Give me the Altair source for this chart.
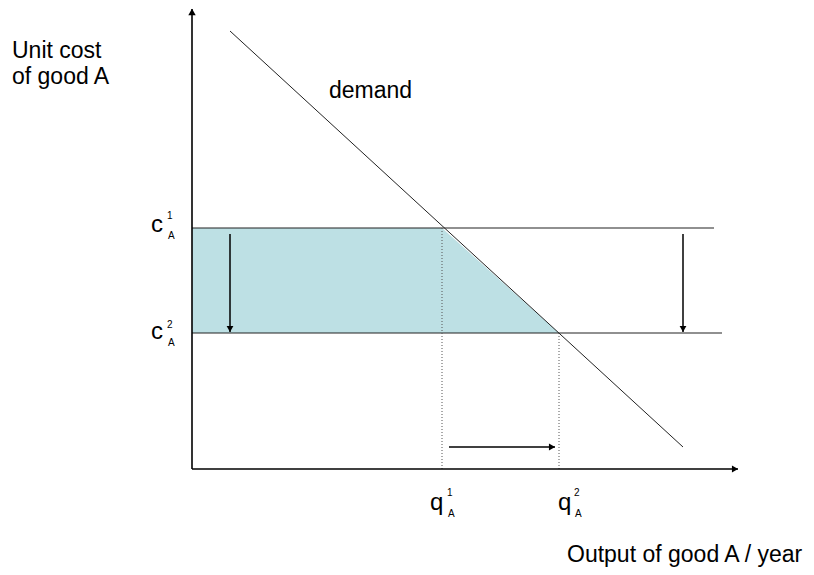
import altair as alt
import pandas as pd

# ---- values (data units: origin at the axes' corner) ----
cost_levels = [4.82, 2.72]          # c_A^1, c_A^2
quantities = [5.0, 7.34]            # q_A^1, q_A^2
cost_line_ends = [10.44, 10.6]
demand_q = [0.76, 9.82]
demand_c = [8.76, 0.44]
axis_x_end = 10.92
axis_y_end = 9.2
down_arrow_q = [0.76, 9.82]
down_arrow_from = 4.7
down_arrow_to = 2.74
right_arrow_from = 5.14
right_arrow_to = 7.26
right_arrow_c = 0.44

big_labels = ["Unit cost", "of good A", "demand", "Output of good A / year"]
big_x = [-3.6, -3.6, 2.74, 7.5]
big_y = [8.22, 7.7, 7.42, -1.86]

main_sym = ["c", "c", "q", "q"]
main_x = [-0.58, -0.58, 4.76, 7.32]
main_y = [4.74, 2.6, -0.82, -0.82]
sup_text = ["1", "2", "1", "2"]
sup_x = [-0.5, -0.5, 5.1, 7.64]
sup_y = [5.0, 2.82, -0.54, -0.54]
sub_text = ["A", "A", "A", "A"]
sub_x = [-0.48, -0.48, 5.12, 7.66]
sub_y = [4.6, 2.46, -0.96, -0.96]

X = alt.Scale(domain=[-3.68, 12.28], nice=False, zero=False)
Y = alt.Scale(domain=[-1.96, 9.22], nice=False, zero=False)
FONT = "Liberation Sans"


def xq(f="x"):
    return alt.X(f, type="quantitative", scale=X, axis=None)


def yc(f="y"):
    return alt.Y(f, type="quantitative", scale=Y, axis=None)


shade = pd.DataFrame({
    "x": [0, quantities[0], quantities[1]],
    "y": [cost_levels[0], cost_levels[0], cost_levels[1]],
    "y2": [cost_levels[1]] * 3,
})
area = alt.Chart(shade).mark_area(color="#bde0e4", opacity=1).encode(
    x=xq(), y=yc(), y2="y2:Q")

costs = pd.DataFrame({"x": [0, 0], "x2": cost_line_ends, "y": cost_levels})
cost_rules = alt.Chart(costs).mark_rule(color="#222", strokeWidth=1.2).encode(
    x=xq(), x2="x2:Q", y=yc())

dots = pd.DataFrame({"x": quantities, "y": [0, 0], "y2": cost_levels})
dot_rules = alt.Chart(dots).mark_rule(color="#555", strokeWidth=1, strokeDash=[1, 2]).encode(
    x=xq(), y=yc(), y2="y2:Q")

dem = pd.DataFrame({"x": [demand_q[0]], "x2": [demand_q[1]], "y": [demand_c[0]], "y2": [demand_c[1]]})
demand = alt.Chart(dem).mark_rule(color="#222", strokeWidth=1).encode(
    x=xq(), x2="x2:Q", y=yc(), y2="y2:Q")

ax = pd.DataFrame({"x": [0, 0], "x2": [0, axis_x_end], "y": [0, 0], "y2": [axis_y_end, 0]})
axes = alt.Chart(ax).mark_rule(color="#000", strokeWidth=1.6).encode(
    x=xq(), x2="x2:Q", y=yc(), y2="y2:Q")

arr = pd.DataFrame({
    "x": down_arrow_q + [right_arrow_from],
    "x2": down_arrow_q + [right_arrow_to],
    "y": [down_arrow_from, down_arrow_from, right_arrow_c],
    "y2": [down_arrow_to, down_arrow_to, right_arrow_c],
})
arrows = alt.Chart(arr).mark_rule(color="#000", strokeWidth=1.5).encode(
    x=xq(), x2="x2:Q", y=yc(), y2="y2:Q")

head_down = alt.Chart(pd.DataFrame({"x": down_arrow_q, "y": [down_arrow_to] * 2})).mark_point(
    shape="triangle-down", filled=True, color="#000", opacity=1, size=45, yOffset=-3).encode(x=xq(), y=yc())
head_right = alt.Chart(pd.DataFrame({"x": [right_arrow_to, axis_x_end], "y": [right_arrow_c, 0]})).mark_point(
    shape="triangle-right", filled=True, color="#000", opacity=1, size=50, xOffset=-3).encode(x=xq(), y=yc())
head_up = alt.Chart(pd.DataFrame({"x": [0], "y": [axis_y_end]})).mark_point(
    shape="triangle-up", filled=True, color="#000", opacity=1, size=55, yOffset=3).encode(x=xq(), y=yc())

big = alt.Chart(pd.DataFrame({"t": big_labels, "x": big_x, "y": big_y})).mark_text(
    font=FONT, fontSize=23, align="left", baseline="alphabetic", color="#000").encode(
    x=xq(), y=yc(), text="t:N")

mains = pd.DataFrame({"t": main_sym, "x": main_x, "y": main_y})
main_r = alt.Chart(mains.iloc[:2]).mark_text(
    font=FONT, fontSize=24, align="right", baseline="alphabetic", color="#000").encode(
    x=xq(), y=yc(), text="t:N")
main_l = alt.Chart(mains.iloc[2:]).mark_text(
    font=FONT, fontSize=24, align="left", baseline="alphabetic", color="#000").encode(
    x=xq(), y=yc(), text="t:N")
sups = alt.Chart(pd.DataFrame({"t": sup_text, "x": sup_x, "y": sup_y})).mark_text(
    font=FONT, fontSize=10, align="left", baseline="alphabetic", color="#000").encode(
    x=xq(), y=yc(), text="t:N")
subs = alt.Chart(pd.DataFrame({"t": sub_text, "x": sub_x, "y": sub_y})).mark_text(
    font=FONT, fontSize=10, align="left", baseline="alphabetic", color="#000").encode(
    x=xq(), y=yc(), text="t:N")

chart = alt.layer(
    area, cost_rules, dot_rules, demand, axes, arrows, head_down, head_right, head_up,
    big, main_r, main_l, sups, subs
).properties(width=798, height=559, autosize="none", padding=0, background="white"
).configure_view(stroke=None)

chart.save("out.html", embed_options={"renderer": "svg", "actions": False})
